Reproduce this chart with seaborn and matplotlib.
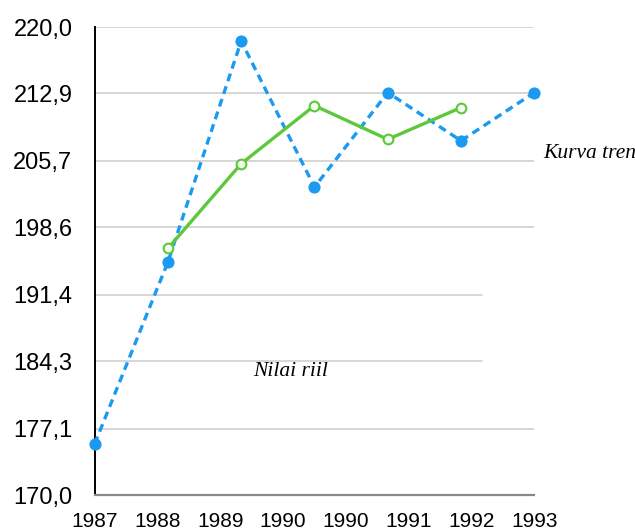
import numpy as np
import pandas as pd
import matplotlib
matplotlib.use("Agg")
import matplotlib.pyplot as plt
import seaborn as sns

# data
positions = [0, 1, 2, 3, 4, 5, 6]
actual = [175.45, 194.9, 218.5, 202.9, 213.0, 207.85, 213.0]
trend_positions = [1, 2, 3, 4, 5]
trend = [196.35, 205.4, 211.6, 208.0, 211.4]
x_tick_labels = ["1987", "1988", "1989", "1990", "1990", "1991", "1992", "1993"]
y_ticks = [170.0, 177.1, 184.3, 191.4, 198.6, 205.7, 212.9, 220.0]
short_grid = [184.3, 191.4]

sns.set_theme(style="white")
plt.rcParams["font.family"] = ["Liberation Sans", "DejaVu Sans"]
plt.rcParams["text.color"] = "black"

fig = plt.figure(figsize=(6.35, 5.30), dpi=100)
ax = fig.add_axes([0.149, 0.066, 0.6925, 0.883])

df_a = pd.DataFrame({"x": positions, "y": actual})
df_t = pd.DataFrame({"x": trend_positions, "y": trend})

blue = "#1a9af0"
green = "#5dc83c"

for y in y_ticks[1:]:
    xmax = 0.882 if y in short_grid else 1.0
    ax.axhline(y, xmin=0, xmax=xmax, color="#cccccc", lw=1.1, zorder=0)

sns.lineplot(data=df_a, x="x", y="y", ax=ax, color=blue, lw=2.4,
             linestyle=(0, (2.4, 1.6)), marker="o", markersize=8,
             markeredgecolor=blue, markerfacecolor=blue, clip_on=False, zorder=3)
sns.lineplot(data=df_t, x="x", y="y", ax=ax, color=green, lw=2.4,
             marker="o", markersize=7, markeredgewidth=1.5,
             markeredgecolor=green, markerfacecolor="#f4fbef", clip_on=False, zorder=4)

ax.set_xlim(0, 6)
ax.set_ylim(170, 220)
ax.set_yticks(y_ticks)
ax.set_yticklabels([f"{v:.1f}".replace(".", ",") for v in y_ticks], fontsize=17)
ax.set_xticks(np.linspace(0, 6, len(x_tick_labels)))
ax.set_xticklabels(x_tick_labels, fontsize=15)
ax.tick_params(axis="both", length=0, colors="black", labelcolor="black")
ax.tick_params(axis="x", pad=12)
ax.tick_params(axis="y", pad=16)
ax.set_xlabel("")
ax.set_ylabel("")

for s in ["top", "right"]:
    ax.spines[s].set_visible(False)
ax.spines["left"].set_color("black")
ax.spines["left"].set_linewidth(1.4)
ax.spines["bottom"].set_color("#888888")
ax.spines["bottom"].set_linewidth(1.6)

ax.text(1.02, 0.73, "Kurva tren", transform=ax.transAxes, fontsize=15.5,
        family="Liberation Serif", style="italic", va="center", ha="left",
        color="black")
ax.text(0.36, 0.263, "Nilai riil", transform=ax.transAxes, fontsize=15.5,
        family="Liberation Serif", style="italic", va="center", ha="left",
        color="black")

fig.savefig("out.png", dpi=100)
